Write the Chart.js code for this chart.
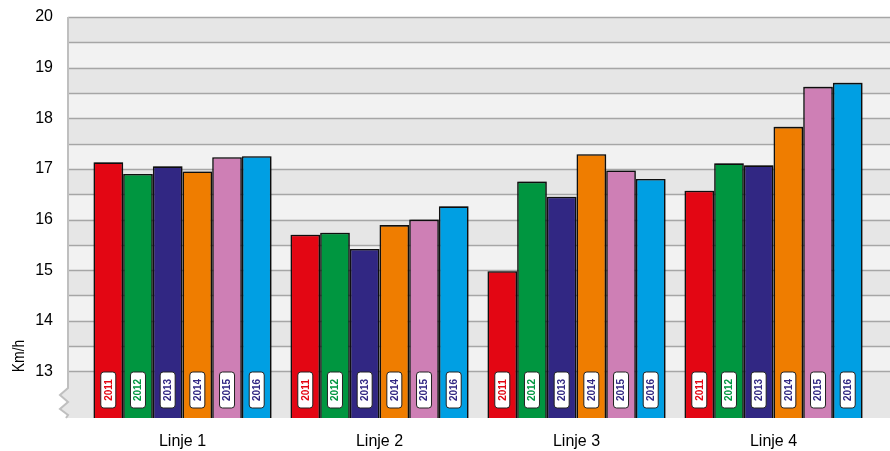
<!DOCTYPE html>
<html>
<head>
<meta charset="utf-8">
<script src="https://cdn.jsdelivr.net/npm/chart.js@4"></script>
<style>
  html, body { margin: 0; padding: 0; background: #fff; }
  #wrap { width: 890px; height: 451px; }
</style>
</head>
<body>
<div id="wrap"><canvas id="chart" width="890" height="451"></canvas></div>
<script>
const categories = ['Linje 1', 'Linje 2', 'Linje 3', 'Linje 4'];
const years = ['2011', '2012', '2013', '2014', '2015', '2016'];

const v2011 = [17.13, 15.70, 14.98, 16.57];
const v2012 = [16.90, 15.74, 16.75, 17.11];
const v2013 = [17.05, 15.42, 16.45, 17.07];
const v2014 = [16.95, 15.89, 17.29, 17.83];
const v2015 = [17.23, 16.00, 16.97, 18.62];
const v2016 = [17.25, 16.26, 16.80, 18.70];

const yTicks = [13, 14, 15, 16, 17, 18, 19, 20];
const yMin = 12.08;
const yMax = 20;

const barColors = ['#e30613', '#009640', '#312783', '#ef7d00', '#ce7fb5', '#009fe3'];
const yearTextColors = ['#e30613', '#009640', '#312783', '#312783', '#312783', '#312783'];

const allValues = [v2011, v2012, v2013, v2014, v2015, v2016];

let datasets = [];
for (let i = 0; i < years.length; i++) {
    datasets.push({
        label: years[i],
        data: allValues[i],
        backgroundColor: barColors[i],
        borderColor: '#111',
        borderWidth: 1.6,
        categoryPercentage: 0.904,
        barPercentage: 1.0
    });
}

// background bands, grid lines, axis line with break, axis title
const backdrop = {
    id: 'backdrop',
    beforeDraw(chart) {
        const ctx = chart.ctx;
        const y = chart.scales.y;
        const area = chart.chartArea;
        const left = 68, right = 890;
        ctx.save();
        ctx.fillStyle = '#e6e6e6';
        ctx.fillRect(left, area.top, right - left, area.bottom - area.top);
        // lighter bands from n to n+0.5
        ctx.fillStyle = '#f2f2f2';
        for (let n = 13; n < yMax; n++) {
            const y1 = y.getPixelForValue(n + 0.5);
            const y2 = y.getPixelForValue(n);
            ctx.fillRect(left, y1, right - left, y2 - y1);
        }
        ctx.strokeStyle = '#a6a6a6';
        ctx.lineWidth = 1.5;
        for (let v = 13; v <= yMax; v += 0.5) {
            const py = Math.round(y.getPixelForValue(v)) + 0.5;
            ctx.beginPath();
            ctx.moveTo(left, py);
            ctx.lineTo(right, py);
            ctx.stroke();
        }
        // axis break
        const b = area.bottom;
        const zig = [[68, b - 30], [60, b - 23], [68, b - 16], [60, b - 9], [68, b - 3], [66, b]];
        ctx.fillStyle = '#ffffff';
        ctx.beginPath();
        ctx.moveTo(55, b - 30);
        zig.forEach(p => ctx.lineTo(p[0], p[1]));
        ctx.lineTo(55, b);
        ctx.closePath();
        ctx.fill();
        ctx.fillStyle = '#e6e6e6';
        ctx.beginPath();
        ctx.moveTo(68, b - 30);
        zig.forEach(p => ctx.lineTo(p[0], p[1]));
        ctx.lineTo(70, b);
        ctx.lineTo(70, b - 30);
        ctx.closePath();
        ctx.fill();
        // axis line
        ctx.strokeStyle = '#bfbfbf';
        ctx.lineWidth = 2;
        ctx.beginPath();
        ctx.moveTo(68, area.top);
        ctx.lineTo(68, b - 30);
        zig.forEach(p => ctx.lineTo(p[0], p[1]));
        ctx.stroke();
        // axis title
        ctx.fillStyle = '#000';
        ctx.font = '17px "Liberation Sans", Arial, sans-serif';
        ctx.textAlign = 'center';
        ctx.textBaseline = 'middle';
        ctx.translate(19, 356);
        ctx.rotate(-Math.PI / 2);
        ctx.scale(0.82, 1);
        ctx.fillText('Km/h', 0, 0);
        ctx.restore();
    },
    beforeDatasetsDraw(chart) {
        const ctx = chart.ctx;
        ctx.save();
        ctx.shadowColor = 'rgba(0,0,0,0.35)';
        ctx.shadowBlur = 2;
        ctx.shadowOffsetX = 1;
        ctx.shadowOffsetY = -1;
    },
    afterDatasetsDraw(chart) {
        const ctx = chart.ctx;
        ctx.restore();
        ctx.save();
        chart.data.datasets.forEach((ds, i) => {
            const meta = chart.getDatasetMeta(i);
            meta.data.forEach(bar => {
                const cx = bar.x;
                const top = 372, h = 36, w = 15;
                ctx.beginPath();
                ctx.roundRect(cx - w / 2, top, w, h, 3);
                ctx.fillStyle = '#ffffff';
                ctx.fill();
                ctx.lineWidth = 1;
                ctx.strokeStyle = '#222';
                ctx.stroke();
                ctx.save();
                ctx.translate(cx, top + h / 2);
                ctx.rotate(-Math.PI / 2);
                ctx.fillStyle = yearTextColors[i];
                ctx.font = 'bold 10px "Liberation Sans", Arial, sans-serif';
                ctx.textAlign = 'center';
                ctx.textBaseline = 'middle';
                ctx.fillText(ds.label, 0, 0.5);
                ctx.restore();
            });
        });
        ctx.restore();
    }
};

const ctx = document.getElementById('chart');
const chart = new Chart(ctx, {
    type: 'bar',
    data: {
        labels: categories,
        datasets: datasets
    },
    options: {
        responsive: false,
        animation: false,
        layout: { padding: { top: 17, right: 18, left: 0, bottom: 0 } },
        plugins: {
            legend: { display: false },
            tooltip: { enabled: false }
        },
        scales: {
            x: {
                grid: { display: false, drawTicks: false },
                border: { display: false },
                ticks: {
                    color: '#000',
                    font: { family: '"Liberation Sans", Arial, sans-serif', size: 16 },
                    padding: 14
                },
                afterFit(scale) {
                    scale.height = 33;
                    scale.paddingLeft = 0;
                    scale.paddingRight = 0;
                }
            },
            y: {
                min: yMin,
                max: yMax,
                grid: { display: false, drawTicks: false },
                border: { display: false },
                afterBuildTicks(scale) {
                    scale.ticks = yTicks.map(v => ({ value: v }));
                },
                ticks: {
                    color: '#000',
                    font: { family: '"Liberation Sans", Arial, sans-serif', size: 16 },
                    padding: 31,
                    callback: v => String(v)
                },
                afterFit(scale) {
                    scale.width = 84;
                    scale.paddingTop = 0;
                    scale.paddingBottom = 0;
                }
            }
        }
    },
    plugins: [backdrop]
});
</script>
</body>
</html>
